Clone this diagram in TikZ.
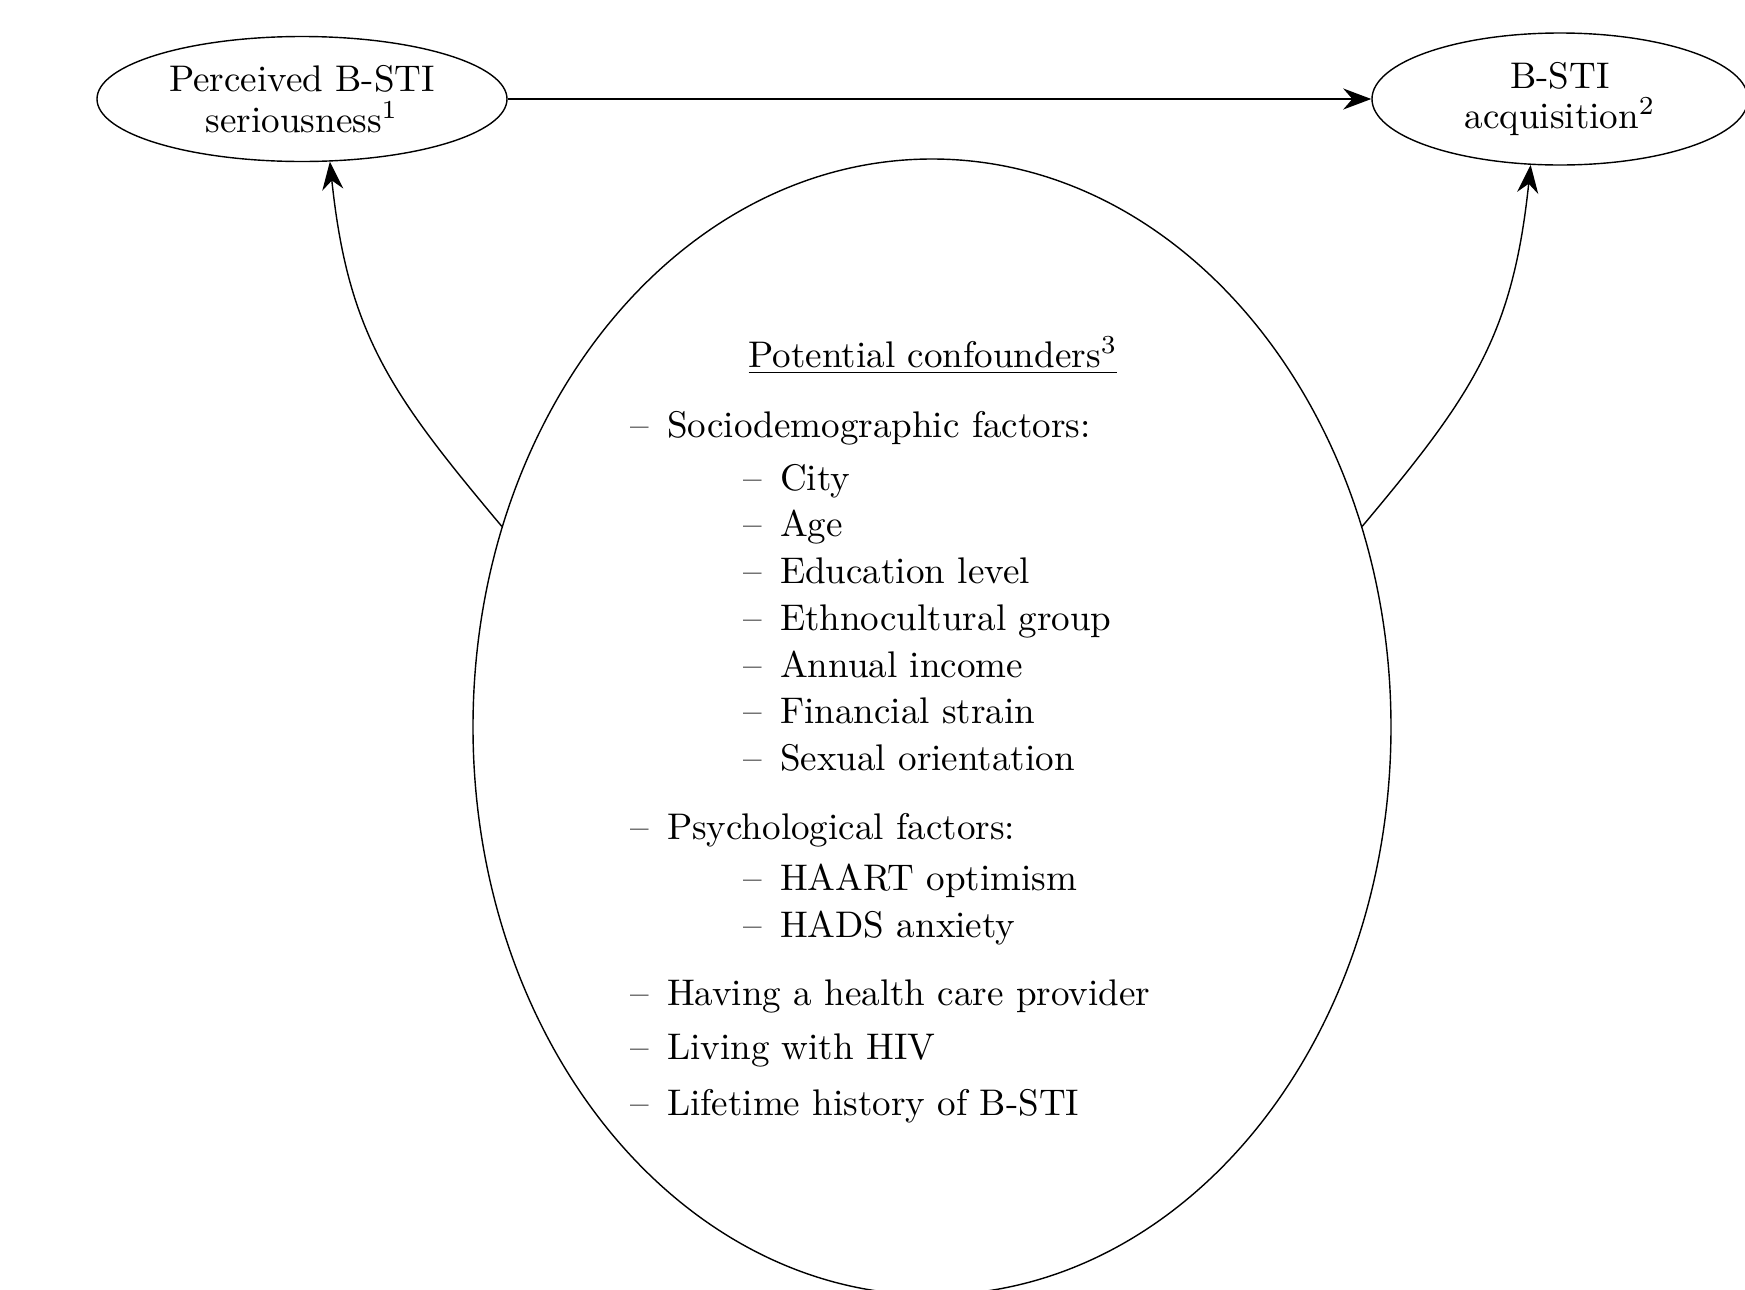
\documentclass[tikz,border=0pt]{standalone}
\usetikzlibrary{arrows.meta,shapes.geometric}

\newcommand{\itemdash}{\textendash\hspace{0.48em}}

\begin{document}
\begin{tikzpicture}[>={Stealth[length=8pt,width=6pt]}, font=\fontsize{10.55}{11.6}\selectfont]
    \tikzstyle{var} = [ellipse, draw, align=center, inner sep=0pt]
    \tikzstyle{item} = [anchor=base west, inner sep=0pt]

    \useasboundingbox (0,0) rectangle (17.45,-12.9);

    % Exposure and outcome
    \node [var, minimum width=4.1cm, minimum height=1.25cm] (perc) at (3.02,-0.99) {Perceived B-STI\\seriousness\textsuperscript{1}};
    \node [var, minimum width=3.76cm, minimum height=1.32cm] (acq) at (15.6,-0.99) {B-STI\\acquisition\textsuperscript{2}};

    % Confounders
    \node [var, minimum width=9.18cm, minimum height=11.36cm] (conf) at (9.32,-7.27) {};
    \node [anchor=base, inner sep=0pt] (title) at (9.33,-3.67) {\underline{Potential confounders\textsuperscript{3}}};

    \node [item] (socio) at (6.30,-4.37) {\itemdash Sociodemographic factors:};
    \node [item] (city) at (7.43,-4.90) {\itemdash City};
    \node [item] (age) at (7.43,-5.36) {\itemdash Age};
    \node [item] (edu) at (7.43,-5.83) {\itemdash Education level};
    \node [item] (ethno) at (7.43,-6.30) {\itemdash Ethnocultural group};
    \node [item] (income) at (7.43,-6.77) {\itemdash Annual income};
    \node [item] (strain) at (7.43,-7.23) {\itemdash Financial strain};
    \node [item] (orient) at (7.43,-7.70) {\itemdash Sexual orientation};

    \node [item] (psych) at (6.30,-8.39) {\itemdash Psychological factors:};
    \node [item] (haart) at (7.43,-8.90) {\itemdash HAART optimism};
    \node [item] (hads) at (7.43,-9.37) {\itemdash HADS anxiety};

    \node [item] (provider) at (6.30,-10.05) {\itemdash Having a health care provider};
    \node [item] (hiv) at (6.30,-10.59) {\itemdash Living with HIV};
    \node [item] (history) at (6.30,-11.15) {\itemdash Lifetime history of B-STI};

    % Paths
    \draw [->] (perc) -- (acq);
    \draw [->] (conf.155) to[out=130, in=-84, looseness=1.1] (perc.-66);
    \draw [->] (conf.25) to[out=50, in=-96, looseness=1.1] (acq.-114);
\end{tikzpicture}
\end{document}
